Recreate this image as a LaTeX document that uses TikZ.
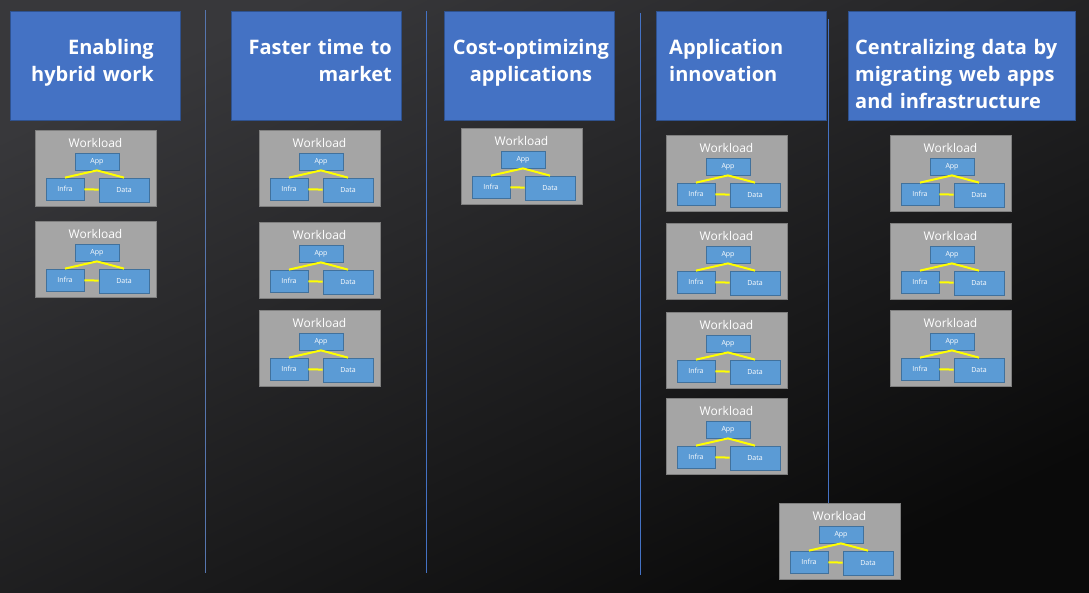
\documentclass[tikz,border=0pt]{standalone}
\usepackage{fontspec}
\setmainfont{Open Sans}
\definecolor{bgA}{HTML}{38383B}
\definecolor{bgD}{HTML}{0A0A0A}
\definecolor{hdrfill}{HTML}{4472C4}
\definecolor{hdrline}{HTML}{2F528F}
\definecolor{sepline}{HTML}{4472C4}
\definecolor{wlfill}{HTML}{A5A5A5}
\definecolor{wlline}{HTML}{7F7F7F}
\definecolor{sfill}{HTML}{5B9BD5}
\definecolor{sline}{HTML}{41719C}
\definecolor{ylw}{HTML}{FFFF00}
\tikzset{
  hdr/.style={draw=hdrline, fill=hdrfill, line width=0.8pt, inner sep=0pt, anchor=north west},
  hdrtext/.style={text=white, inner sep=0pt, text width=230pt, font=\bfseries\fontsize{20}{27}\selectfont},
  wlbox/.style={draw=wlline, fill=wlfill, line width=1pt, inner sep=0pt, anchor=north west, minimum width=121pt, minimum height=76pt},
  wltext/.style={text=white, inner sep=0pt, font=\fontsize{12}{14}\selectfont},
  sbox/.style={draw=sline, fill=sfill, line width=0.8pt, inner sep=0pt, text=white, font=\fontsize{7}{8}\selectfont},
  ylink/.style={draw=ylw, line width=2pt},
  sep/.style={draw=sepline, line width=1pt},
}
\newcommand\workload[3]{%
  \node[wlbox] (#1) at (#2,#3) {};
  \node[wltext] (#1t) at (#2+60.5,#3+13) {Workload};
  \node[sbox, minimum width=44pt, minimum height=17pt] (#1a) at (#2+62,#3+31.5) {App};
  \node[sbox, minimum width=38pt, minimum height=22pt] (#1i) at (#2+30,#3+59) {Infra};
  \node[sbox, minimum width=50pt, minimum height=24pt] (#1d) at (#2+89,#3+60) {Data};
  \draw[ylink] (#1i.north) -- (#1a.south) -- (#1d.north);
  \draw[ylink] (#1i) -- (#1d);
}
\begin{document}
\begin{tikzpicture}[x=1pt,y=-1pt]
\useasboundingbox (0,0) rectangle (1089,592);
\shade[top color=bgA, bottom color=bgD, shading angle=25] (0,0) rectangle (1089,592);
% separators
\coordinate (s1t) at (205.5,10);  \coordinate (s1b) at (205.5,573);
\coordinate (s2t) at (426.5,11);  \coordinate (s2b) at (426.5,573);
\coordinate (s3t) at (640.5,13);  \coordinate (s3b) at (640.5,575);
\coordinate (s4t) at (828.3,19);  \coordinate (s4b) at (828.3,580);
\draw[sep, draw=sepline!70!gray] (s1t) -- (s1b);
\draw[sep] (s2t) -- (s2b);
\draw[sep] (s3t) -- (s3b);
\draw[sep] (s4t) -- (s4b);
% headers
\node[hdr, minimum width=170pt, minimum height=109pt] (h1) at (10,11) {};
\node[hdr, minimum width=170pt, minimum height=109pt] (h2) at (231,11) {};
\node[hdr, minimum width=170pt, minimum height=109pt] (h3) at (444,11) {};
\node[hdr, minimum width=170pt, minimum height=109pt] (h4) at (656,11) {};
\node[hdr, minimum width=227pt, minimum height=109pt] (h5) at (848,11) {};
\node[hdrtext, align=right, anchor=base east] (h1t) at (154,54) {Enabling\\hybrid work};
\node[hdrtext, align=right, anchor=base east] (h2t) at (392,54) {Faster time to\\market};
\node[hdrtext, align=center, anchor=base] (h3t) at (531,54) {Cost-optimizing\\applications};
\node[hdrtext, align=left, anchor=base west] (h4t) at (669,54) {Application\\innovation};
\node[hdrtext, align=left, anchor=base west] (h5t) at (855,54) {Centralizing data by\\migrating web apps\\and infrastructure};
% workloads
\workload{a1}{35}{130}
\workload{a2}{35}{221}
\workload{b1}{259}{130}
\workload{b2}{259}{222}
\workload{b3}{259}{310}
\workload{c1}{461}{128}
\workload{d1}{666}{135}
\workload{d2}{666}{223}
\workload{d3}{666}{312}
\workload{d4}{666}{398}
\workload{e1}{890}{135}
\workload{e2}{890}{223}
\workload{e3}{890}{310}
\workload{f1}{779}{503}
\end{tikzpicture}
\end{document}
